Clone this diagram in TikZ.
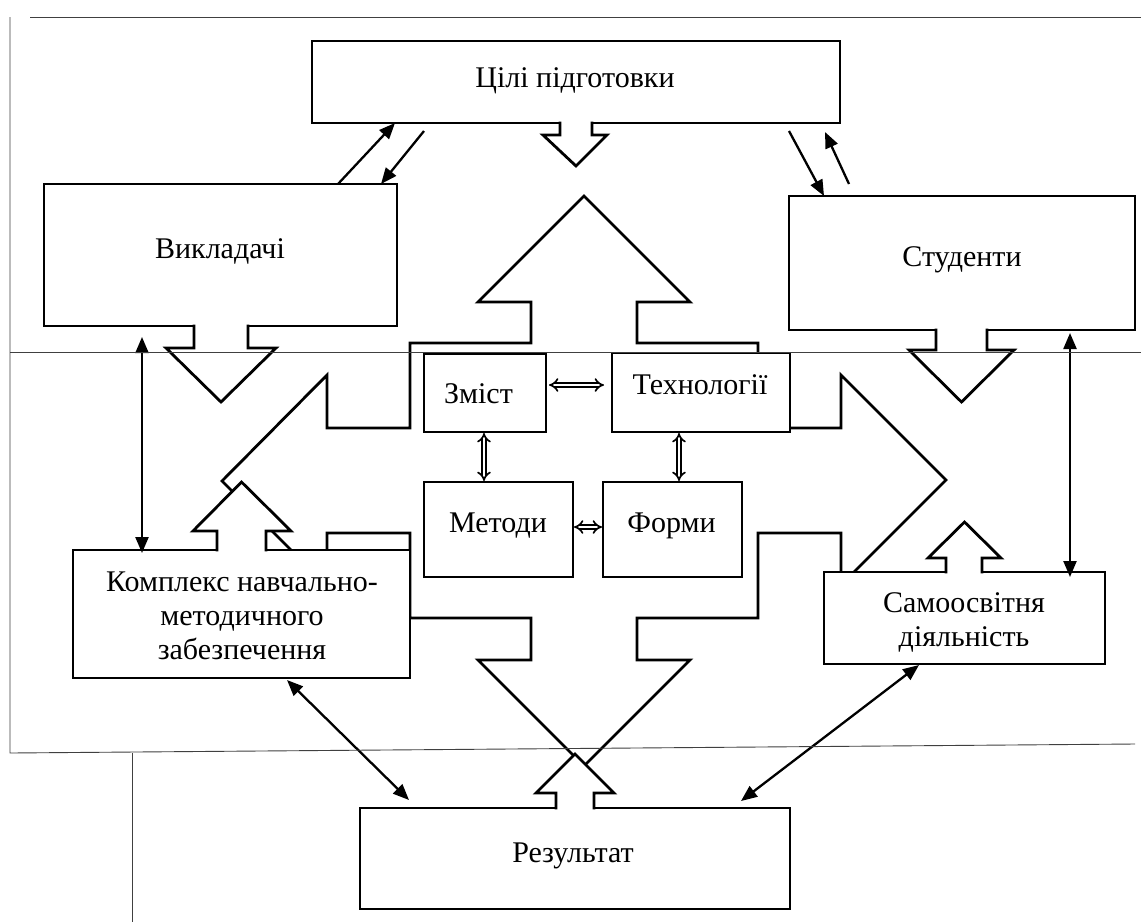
\documentclass[tikz,border=0pt]{standalone}
\usepackage{fontspec}
\setmainfont{Liberation Serif}
\usetikzlibrary{arrows.meta,calc}
\begin{document}
\begin{tikzpicture}[x=1pt,y=-1pt,
  shapeline/.style={draw=black,line width=2.8pt,line join=miter,miter limit=10},
  box/.style={shapeline,fill=white,rectangle,inner sep=0pt,outer sep=0pt},
  txt/.style={font=\fontsize{30}{34}\selectfont,align=center,inner sep=0pt},
  link/.style={draw=black,line width=2.3pt},
  tipS/.style={-{Triangle[length=16pt,width=13pt]}},
  tipB/.style={{Triangle[length=16pt,width=13pt]}-{Triangle[length=16pt,width=13pt]}},
  dbl/.style={draw=black,line width=1.7pt,double=white,double distance=2.8pt,{Implies}-{Implies}},
  frame/.style={draw=black!75,line width=0.9pt}]
\useasboundingbox (0,0) rectangle (1141,922);
\fill[white] (0,0) rectangle (1141,922);

% central cross of arrows
\path[shapeline,fill=white] (584,196) -- (690,302) -- (637,302) -- (637,343) -- (758,343) -- (758,428)
  -- (841,428) -- (841,375) -- (946,480) -- (841,585) -- (841,533) -- (758,533) -- (758,618)
  -- (637,618) -- (637,660) -- (690,660) -- (584,766) -- (478,660) -- (531,660) -- (531,618)
  -- (410,618) -- (410,533) -- (327,533) -- (327,586) -- (222,481) -- (327,375) -- (327,428)
  -- (410,428) -- (410,343) -- (531,343) -- (531,302) -- (478,302) -- cycle;

% boxes
\node[box,minimum width=528pt,minimum height=82pt] (cili) at (576,82) {};
\node[box,minimum width=353pt,minimum height=142pt] (vyk) at (220.5,255) {};
\node[box,minimum width=346pt,minimum height=134pt] (stud) at (962,263) {};
\node[box,minimum width=122pt,minimum height=78pt] (zmist) at (485,393) {};
\node[box,minimum width=178pt,minimum height=79pt] (tech) at (701,392.5) {};
\node[box,minimum width=149pt,minimum height=95pt] (met) at (498.5,529.5) {};
\node[box,minimum width=139pt,minimum height=95pt] (form) at (672.5,529.5) {};
\node[box,minimum width=337pt,minimum height=128pt] (kom) at (241.5,614) {};
\node[box,minimum width=281pt,minimum height=92pt] (samo) at (964.5,618) {};
\node[box,minimum width=430pt,minimum height=101pt] (rez) at (575,858.5) {};

% block arrows attached to boxes
% down arrows
\fill[white] (560,120) -- (560,135) -- (543,135) -- (576,166) -- (607,135) -- (592,135) -- (592,120) -- cycle;
\draw[shapeline] (560,121.6) -- (560,135) -- (543,135) -- (576,166) -- (607,135) -- (592,135) -- (592,121.6);
\fill[white] (194,323) -- (194,348) -- (166,348) -- (221,402) -- (276,348) -- (248,348) -- (248,323) -- cycle;
\draw[shapeline] (194,324.6) -- (194,348) -- (166,348) -- (221,402) -- (276,348) -- (248,348) -- (248,324.6);
\fill[white] (936,327) -- (936,350) -- (909,350) -- (961.5,402) -- (1014,350) -- (987,350) -- (987,327) -- cycle;
\draw[shapeline] (936,328.6) -- (936,350) -- (909,350) -- (961.5,402) -- (1014,350) -- (987,350) -- (987,328.6);
% up arrows
\fill[white] (217,553) -- (217,531) -- (193,531) -- (241.5,482) -- (291,531) -- (266,531) -- (266,553) -- cycle;
\draw[shapeline] (217,551.4) -- (217,531) -- (193,531) -- (241.5,482) -- (291,531) -- (266,531) -- (266,551.4);
\fill[white] (946,575) -- (946,558) -- (928,558) -- (964.5,522) -- (1001,558) -- (982,558) -- (982,575) -- cycle;
\draw[shapeline] (946,573.4) -- (946,558) -- (928,558) -- (964.5,522) -- (1001,558) -- (982,558) -- (982,573.4);
\fill[white] (556,811) -- (556,793) -- (536,793) -- (575,754) -- (614,793) -- (594,793) -- (594,811) -- cycle;
\draw[shapeline] (556,809.4) -- (556,793) -- (536,793) -- (575,754) -- (614,793) -- (594,793) -- (594,809.4);

% texts
\node[txt,anchor=base] (cilit) at (575,87) {Цілі підготовки};
\node[txt,anchor=base] (vykt) at (220,258) {Викладачі};
\node[txt,anchor=base] (studt) at (962,266) {Студенти};
\node[txt,anchor=base] (zmistt) at (478.5,403) {Зміст};
\node[txt,anchor=base] (techt) at (700,394) {Технології};
\node[txt,anchor=base] (mett) at (498,532) {Методи};
\node[txt,anchor=base] (formt) at (671.5,532) {Форми};
\node[txt,anchor=center] (komt) at (242,616) {Комплекс навчально-\\методичного\\забезпечення};
\node[txt,anchor=center] (samot) at (964,622) {Самоосвітня\\діяльність};
\node[txt,anchor=base] (rezt) at (573,862) {Результат};

% connectors
\draw[link,tipS] ($(vyk.north west)+(294,0)$) -- ($(cili.south west)+(83,0)$);
\draw[link,tipS] ($(cili.south west)+(112,8)$) -- ($(vyk.north west)+(337,0)$);
\draw[link,tipS] ($(cili.south east)+(-51,8)$) -- ($(stud.north west)+(35,0)$);
\draw[link,tipS] ($(stud.north west)+(60,-12)$) -- ($(cili.south east)+(-15,9)$);
\draw[link,tipB] ($(vyk.south west)+(98,11)$) -- ($(kom.north west)+(69,3)$);
\draw[link,tipB] ($(stud.south east)+(-65,3)$) -- ($(samo.north east)+(-35,5)$);
\draw[link,tipB] ($(kom.south west)+(214,2)$) -- ($(rez.north west)+(49,-8)$);
\draw[link,tipB] ($(samo.south west)+(95,1)$) -- ($(rez.north east)+(-49,-7)$);

% double arrows
\draw[dbl] ($(zmist.east)+(3,-8)$) -- ($(tech.west)+(-8,-7.5)$);
\draw[dbl] ($(zmist.south)+(-1,1)$) -- ($(met.north)+(-14.5,-1)$);
\draw[dbl] ($(tech.south)+(-22,1)$) -- ($(form.north)+(6.5,-1)$);
\draw[dbl] ($(met.east)+(1,-2.5)$) -- ($(form.west)+(-1,-2.5)$);

% thin frame lines
\draw[frame] (30,17) -- (1141,17);
\draw[frame] (10,17) -- (10,753) -- (1135,744);
\draw[frame] (10,352.5) -- (1141,352.5);
\draw[frame] (132,753) -- (132,922);
\end{tikzpicture}
\end{document}
